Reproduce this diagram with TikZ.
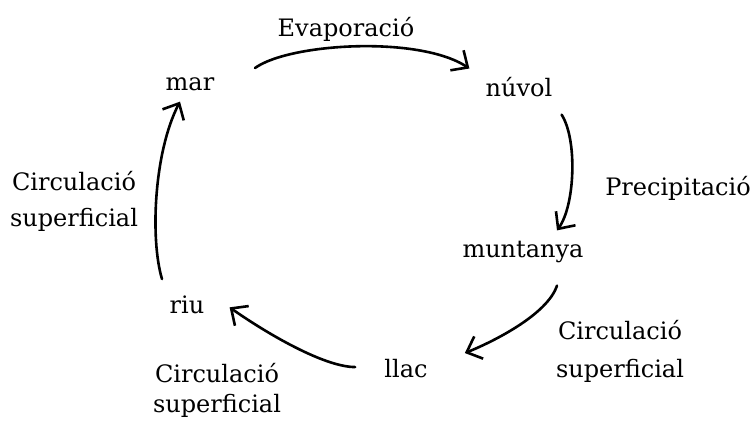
\documentclass[tikz,border=0pt]{standalone}
\usepackage{fontspec}
\setmainfont{DejaVu Serif}
\usetikzlibrary{arrows.meta}
\tikzset{
    every picture/.style={
        line width=2.6bp
    },
    % Style for the stages of the cycle
    stage label/.style={
        font=\fontsize{24bp}{36bp}\selectfont,
        inner sep=0pt,
        anchor=base
    },
    % Style for the labels of the processes
    process label/.style={
        font=\fontsize{24bp}{36bp}\selectfont,
        inner sep=0pt,
        anchor=base,
        align=center
    },
    flow arrow/.style={
        -{Straight Barb[length=13bp,width=24bp]},
        line cap=round,
        line join=round
    }
}

\begin{document}
\begin{tikzpicture}[x=1bp,y=1bp]

% Set the canvas size
\path[use as bounding box] (0,0) rectangle (756,421);

% Stages of the cycle
\node[stage label] (mar) at (190,331) {mar};
\node[stage label] (nuvol) at (519,325) {núvol};
\node[stage label] (muntanya) at (523,164) {muntanya};
\node[stage label] (llac) at (406,44) {llac};
\node[stage label] (riu) at (187,108) {riu};

% Processes (base is the baseline of the last line)
\node[process label] (evaporacio) at (346,385) {Evaporació};
\node[process label] (precipitacio) at (678,226) {Precipitació};
\node[process label] (circ right) at (620,44) {Circulació\\[2bp]superficial};
\node[process label] (circ bottom) at (217,9) {Circulació\\[-6bp]superficial};
\node[process label] (circ left) at (74,195) {Circulació\\superficial};

% Draw all arrows
\draw[flow arrow] ([shift={(65,22)}]mar.base)
    .. controls +(35,25) and +(-50,33) .. ([shift={(-15,7)}]nuvol.north west);
\draw[flow arrow] ([shift={(8,-17)}]nuvol.south east)
    .. controls +(16,-25) and +(18,25) .. ([shift={(34,9)}]muntanya.north);
\draw[flow arrow] ([shift={(34,-22)}]muntanya.south)
    .. controls +(-10,-30) and +(25,10) .. ([shift={(36,15)}]llac.east);
\draw[flow arrow] ([shift={(-28,1)}]llac.west)
    .. controls +(-30,0) and +(40,-28) .. ([shift={(24,-3)}]riu.east);
\draw[flow arrow] ([shift={(-25,15)}]riu.north)
    .. controls +(-12,40) and +(-26,-50) .. ([shift={(-10,-10)}]mar.south);

\end{tikzpicture}
\end{document}
